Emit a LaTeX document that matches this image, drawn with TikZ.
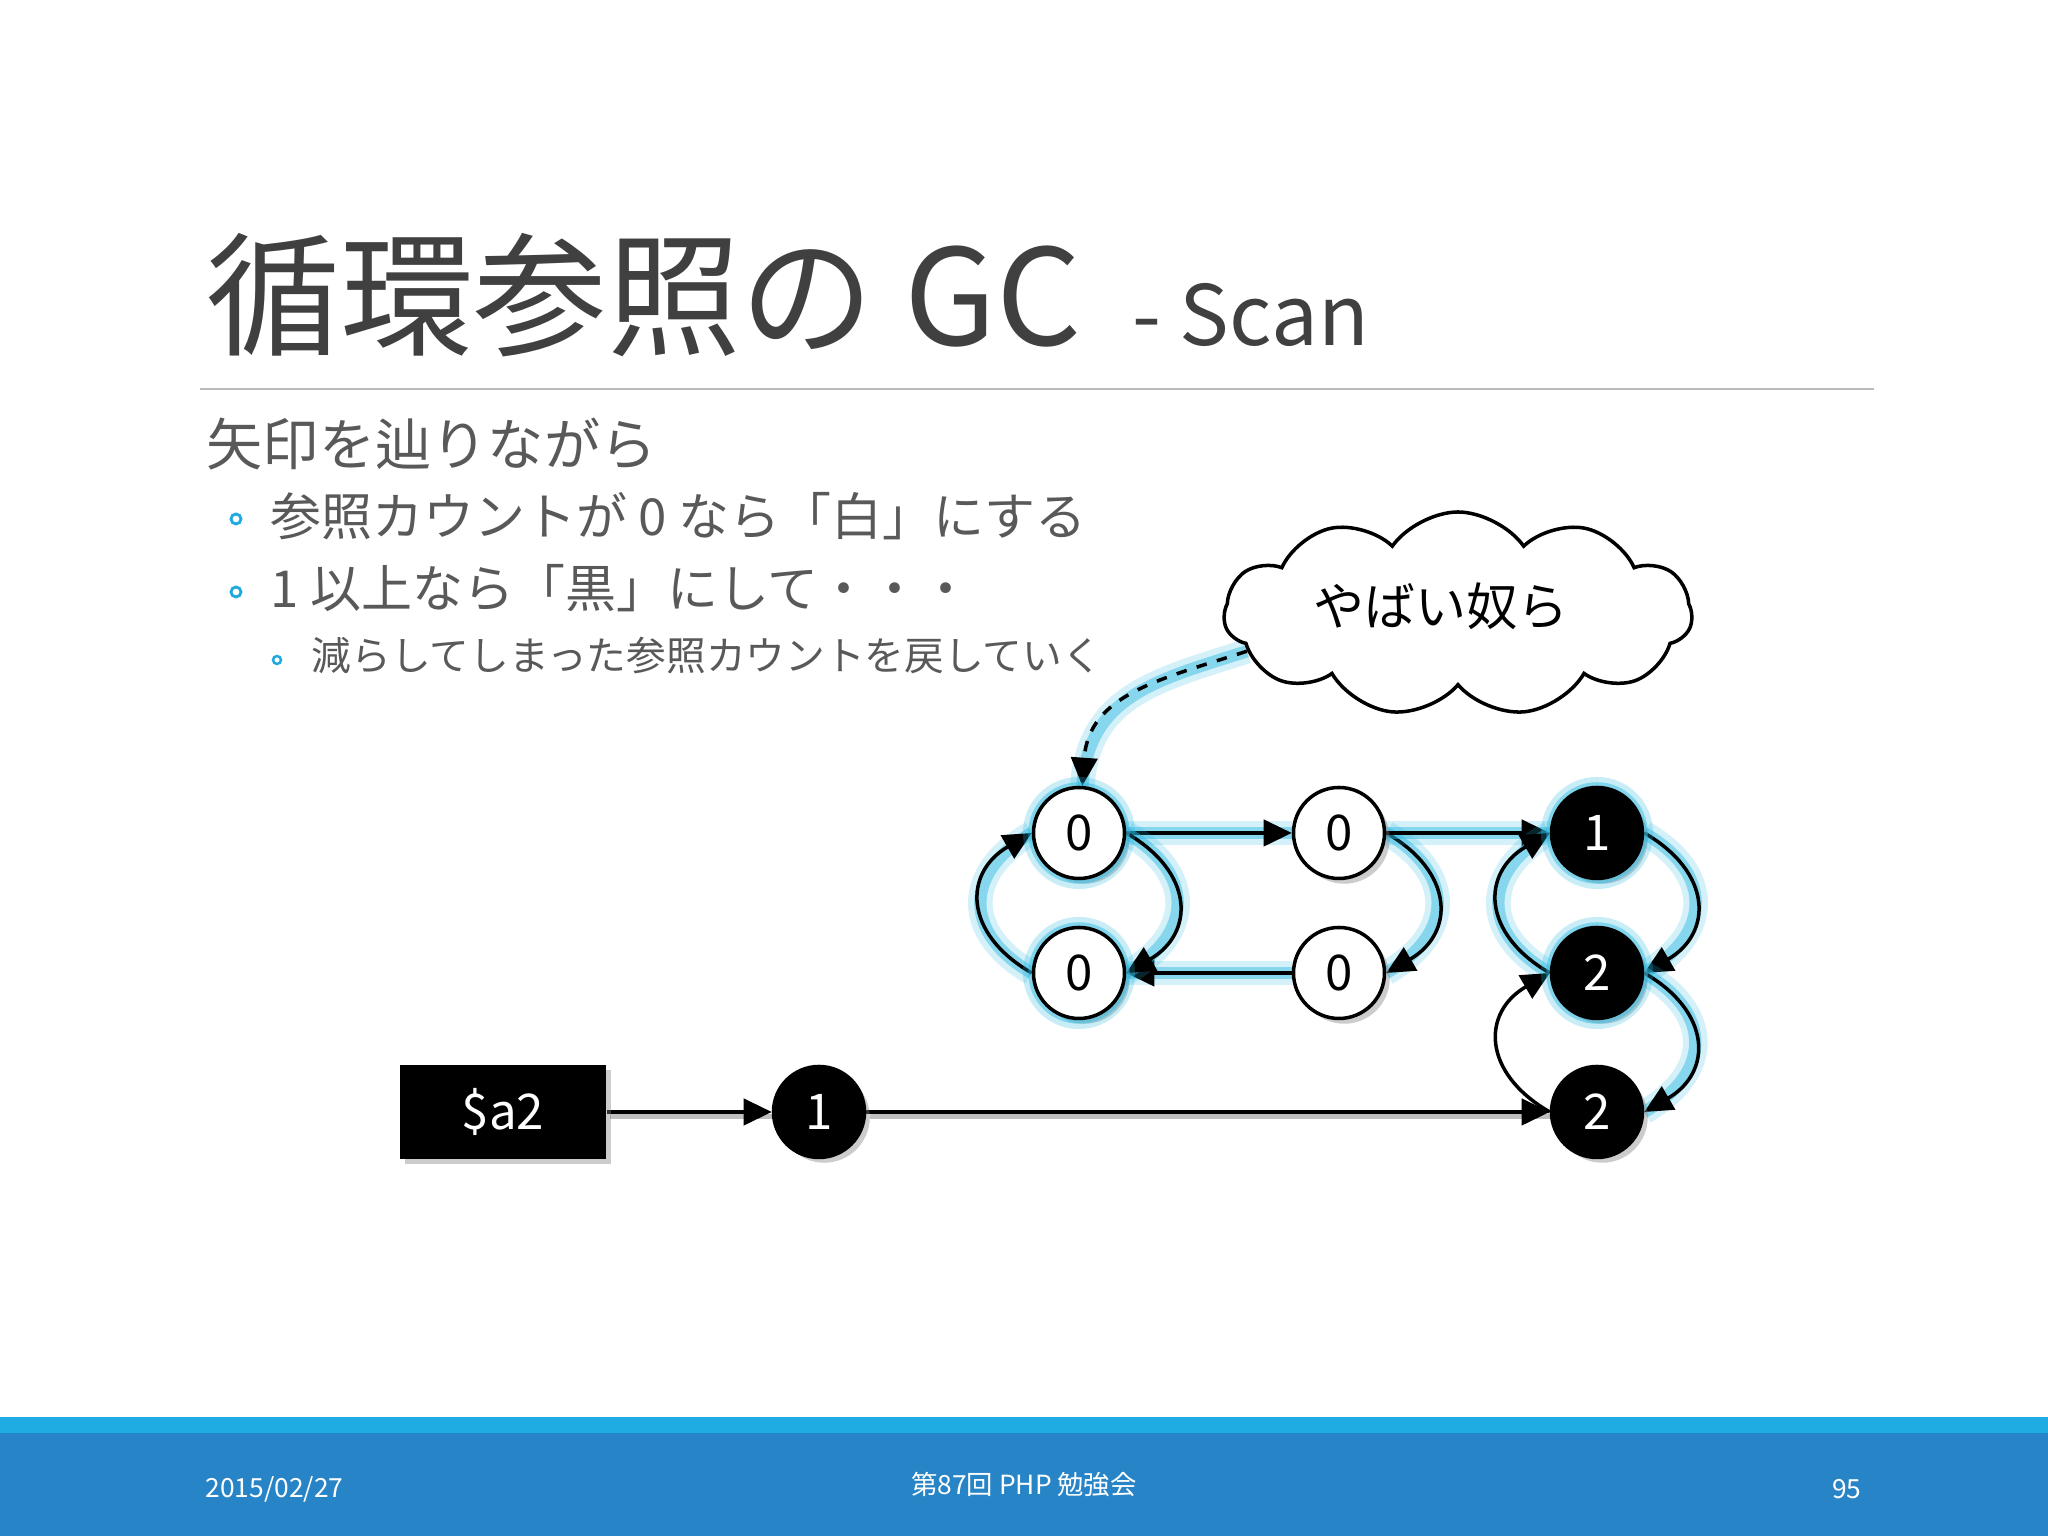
\documentclass[tikz,border=0pt]{standalone}
\usepackage{fontspec}
\setmainfont{Noto Sans CJK JP}
\usetikzlibrary{arrows.meta,shapes.symbols,shadows,backgrounds}

\definecolor{titlegray}{RGB}{64,64,64}
\definecolor{textgray}{RGB}{89,89,89}
\definecolor{bulletblue}{RGB}{30,170,225}
\definecolor{barlight}{RGB}{30,172,227}
\definecolor{bardark}{RGB}{39,132,199}
\definecolor{glowcyan}{RGB}{40,185,225}

\begin{document}
\begin{tikzpicture}[
  cnode/.style={circle, draw, line width=1pt, fill=white, minimum size=0.91cm, inner sep=0pt,
    font=\fontsize{14}{14}\selectfont,
    drop shadow={opacity=0.4, shadow xshift=1.5pt, shadow yshift=-1.5pt}},
  bnode/.style={cnode, fill=black, text=white},
  glownode/.style={preaction={draw=glowcyan, line width=6pt, opacity=0.25},
    preaction={draw=glowcyan, line width=3pt, opacity=0.45}},
  edge/.style={line width=1pt, -{Triangle[length=8pt,width=7.5pt]}},
  glow/.style={preaction={draw=glowcyan, -, line width=7pt, opacity=0.2},
    preaction={draw=glowcyan, -, line width=3.5pt, opacity=0.45}},
  lineshadow/.style={preaction={draw=black!25, -, line width=1.5pt,
    transform canvas={xshift=1pt, yshift=-1.2pt}}},
  bodytext/.style={anchor=base west, inner sep=0pt, text=textgray},
  foot/.style={text=white, inner sep=0pt, font=\fontsize{7.5}{7.5}\selectfont}
]

\useasboundingbox (0,0) rectangle (20.48,15.36);

% Footer bar
\fill[bardark] (0,0) rectangle (20.48,1.03);
\fill[barlight] (0,1.03) rectangle (20.48,1.19);
\node[foot, anchor=west] (date) at (2.05,0.47) {2015/02/27};
\node[foot] (event) at (10.24,0.51) {第87回 PHP 勉強会};
\node[foot, anchor=east] (page) at (18.62,0.47) {95};

% Title
\node[anchor=base west, inner sep=0pt, text=titlegray, font=\fontsize{38}{38}\selectfont]
  (title) at (2.06,11.90) {循環参照の GC\hspace{0.38em}{\fontsize{23.7}{23.7}\selectfont - Scan}};
\draw[gray!55, line width=0.6pt] (2.00,11.47) -- (18.74,11.47);

% Bullets
\node[bodytext, font=\fontsize{16}{16}\selectfont] (l1) at (2.06,10.70) {矢印を辿りながら};
\draw[bulletblue, line width=0.8pt] (2.36,10.17) circle (0.05);
\node[bodytext, font=\fontsize{14.5}{14.5}\selectfont] (l2) at (2.70,10.00) {参照カウントが 0 なら「白」にする};
\draw[bulletblue, line width=0.8pt] (2.36,9.44) circle (0.05);
\node[bodytext, font=\fontsize{14.5}{14.5}\selectfont] (l3) at (2.70,9.28) {1 以上なら「黒」にして・・・};
\draw[bulletblue, line width=0.7pt] (2.77,8.76) circle (0.04);
\node[bodytext, font=\fontsize{11.3}{11.3}\selectfont] (l4) at (3.11,8.65) {減らしてしまった参照カウントを戻していく};

% Cloud
\node[cloud, draw, line width=1pt, fill=white, cloud puffs=11, cloud puff arc=110, aspect=2.3,
  minimum width=4.68cm, minimum height=2.04cm, inner sep=0pt,
  font=\fontsize{14.5}{14.5}\selectfont] (yabai) at (14.58,9.22)
  {\raisebox{2mm}{\hspace*{-3.4mm}やばい奴ら}};

% Nodes
\node[fill=black, text=white, minimum width=2.06cm, minimum height=0.94cm, inner sep=0pt,
  font=\fontsize{14}{14}\selectfont,
  drop shadow={opacity=0.4, shadow xshift=1.5pt, shadow yshift=-1.5pt}] (a2) at (5.03,4.24) {\$a2};
\node[bnode] (b0) at (8.19,4.24) {1};

\node[cnode, glownode] (w1) at (10.79,7.03) {0};
\node[cnode, glownode] (w2) at (10.79,5.63) {0};
\node[cnode] (w3) at (13.39,7.03) {0};
\node[cnode] (w4) at (13.39,5.63) {0};

\node[bnode, glownode] (b1) at (15.97,7.03) {1};
\node[bnode, glownode] (b2) at (15.97,5.63) {2};
\node[bnode] (b3) at (15.97,4.24) {2};

\begin{pgfonlayer}{background}
\fill[white] (0,1.19) rectangle (20.48,15.36);

% Reference from $a2
\draw[edge, lineshadow] (a2) -- (b0);
\draw[edge, lineshadow] (b0) -- (b3);

% White cycle
\draw[edge, glow] (w1) -- (w3);
\draw[edge, glow] (w4) -- (w2);
\draw[edge, glow] (w1.east) to[out=-30, in=30, looseness=1.45] (w2.east);
\draw[edge, glow] (w2.west) to[out=150, in=210, looseness=1.45] (w1.west);
\draw[edge, glow] (w3.east) to[out=-30, in=30, looseness=1.45] (w4.east);
\draw[edge, glow] (w3) -- (b1);

% Black chain
\draw[edge, glow] (b1.east) to[out=-30, in=30, looseness=1.45] (b2.east);
\draw[edge, glow] (b2.west) to[out=150, in=210, looseness=1.45] (b1.west);
\draw[edge, glow] (b2.east) to[out=-30, in=30, looseness=1.45] (b3.east);
\draw[edge] (b3.west) to[out=150, in=210, looseness=1.45] (b2.west);

% Cloud pointer
\draw[edge, glow, dashed] (yabai.190) to[out=198, in=86, looseness=1.1] (w1);
\end{pgfonlayer}

\end{tikzpicture}
\end{document}
